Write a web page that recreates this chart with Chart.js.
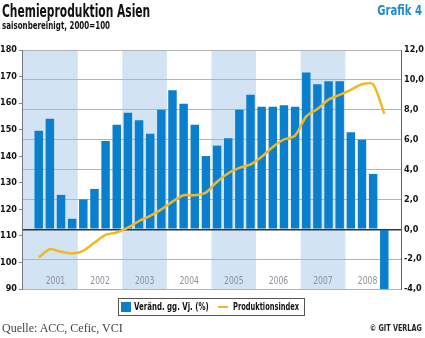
<!DOCTYPE html>
<html>
<head>
<meta charset="utf-8">
<script src="https://cdn.jsdelivr.net/npm/chart.js@4.4.1/dist/chart.umd.min.js"></script>
<style>
  html, body { margin:0; padding:0; background:#fff; }
  body { width:425px; height:338px; position:relative; overflow:hidden;
         font-family:"Liberation Sans Narrow","DejaVu Sans Condensed","Roboto",sans-serif; }
  #wrap { position:absolute; left:0; top:0; width:425px; height:338px; }
  .t { position:absolute; white-space:nowrap; }
  .cl { transform-origin: left center; }
  .cr { transform-origin: right center; }
  #title { left:2px; top:1px; font-size:17px; font-weight:bold; color:#111; transform:scaleX(0.70); }
  #sub { left:2px; top:20px; font-size:10px; font-weight:bold; color:#111; transform:scaleX(0.79); }
  #grafik { right:3px; top:2px; font-size:14px; font-weight:bold; color:#1e8bd2; transform:scaleX(0.80); }
  #legend { left:118px; top:298px; width:187px; height:18px; border:1px solid #555; box-sizing:border-box;
            font-size:10px; font-weight:bold; color:#111; }
  #lg1 { position:absolute; left:2px; top:3px; width:10px; height:10px; background:#0a7fcd; }
  #lg1t { left:15px; top:2px; transform:scaleX(0.78); }
  #lg2 { position:absolute; left:99px; top:7px; width:10px; height:2px; background:#f2b824; }
  #lg2t { left:114px; top:2px; transform:scaleX(0.74); }
  #src { left:2px; top:321px; font-family:"Liberation Serif","DejaVu Serif",serif; font-size:12px; color:#444; }
  #copy { right:3px; top:324px; font-size:8px; font-weight:bold; color:#222; transform:scaleX(0.9); }
</style>
</head>
<body>
<div id="wrap"><canvas id="c" width="425" height="338"></canvas></div>
<div class="t cl" id="title">Chemieproduktion Asien</div>
<div class="t cl" id="sub">saisonbereinigt, 2000=100</div>
<div class="t cr" id="grafik">Grafik 4</div>
<div class="t" id="legend">
  <div id="lg1"></div><div class="t cl" id="lg1t">Veränd. gg. Vj. (%)</div>
  <div id="lg2"></div><div class="t cl" id="lg2t">Produktionsindex</div>
</div>
<div class="t" id="src">Quelle: ACC, Cefic, VCI</div>
<div class="t cr" id="copy">© GIT VERLAG</div>
<script>
const years = ['2001','2002','2003','2004','2005','2006','2007','2008'];
const quarters = ['Q1','Q2','Q3','Q4'];
const changePct = [
  6.6, 7.4, 2.3, 0.7,
  2.0, 2.7, 5.9, 7.0,
  7.8, 7.3, 6.4, 8.0,
  9.3, 8.4, 7.0, 4.9,
  5.6, 6.1, 8.0, 9.0,
  8.2, 8.2, 8.3, 8.2,
  10.5, 9.7, 9.9, 9.9,
  6.5, 6.0, 3.7, -4.0
];
const productionIndex = [
  101.9, 105.0, 104.0, 103.4,
  104.4, 107.5, 110.4, 111.3,
  113.1, 115.6, 117.5, 120.0,
  122.9, 125.3, 125.3, 126.3,
  130.4, 133.6, 135.6, 136.9,
  139.8, 143.5, 146.3, 147.8,
  155.0, 157.8, 161.3, 163.1,
  165.0, 167.1, 167.1, 156.0
];
const shadedYears = ['2001','2003','2005','2007'];

// one empty slot on each side, as in the reference
const labels = [''].concat(years.flatMap(y => quarters.map(q => y + ' ' + q))).concat(['']);
const pad = arr => [null].concat(arr).concat([null]);

const condensed = '"Liberation Sans Narrow","DejaVu Sans Condensed","Roboto",sans-serif';

const bandPlugin = {
  id: 'bands',
  beforeDraw(chart) {
    const {ctx, chartArea, scales} = chart;
    const x = scales.x;
    ctx.save();
    years.forEach((yr, k) => {
      const first = 1 + 4 * k, last = first + 3;
      const left = k === 0 ? chartArea.left : (x.getPixelForValue(first) + x.getPixelForValue(first - 1)) / 2;
      const right = k === years.length - 1 ? chartArea.right : (x.getPixelForValue(last) + x.getPixelForValue(last + 1)) / 2;
      if (shadedYears.includes(yr)) {
        ctx.fillStyle = '#d2e4f4';
        ctx.fillRect(left, chartArea.top, right - left, chartArea.bottom - chartArea.top);
      }
    });
    ctx.fillStyle = '#8b9098';
    ctx.font = '10px ' + condensed;
    ctx.textAlign = 'center';
    ctx.textBaseline = 'middle';
    years.forEach((yr, k) => {
      const first = 1 + 4 * k, last = first + 3;
      const cx = (x.getPixelForValue(first) + x.getPixelForValue(last)) / 2;
      ctx.save();
      ctx.translate(cx, chartArea.bottom - 8);
      ctx.scale(0.85, 1);
      ctx.fillText(yr, 0, 0);
      ctx.restore();
    });
    ctx.restore();
  }
};

new Chart(document.getElementById('c'), {
  type: 'bar',
  data: {
    labels: labels,
    datasets: [
      {
        type: 'line',
        label: 'Produktionsindex',
        data: pad(productionIndex),
        yAxisID: 'yL',
        borderColor: '#f2b824',
        borderWidth: 2.5,
        pointRadius: 0,
        tension: 0.25,
        fill: false,
        order: 0
      },
      {
        type: 'bar',
        label: 'Veränd. gg. Vj. (%)',
        data: pad(changePct),
        yAxisID: 'yR',
        backgroundColor: '#0a7fcd',
        barPercentage: 0.76,
        categoryPercentage: 1.0,
        order: 1
      }
    ]
  },
  options: {
    responsive: false,
    animation: false,
    layout: { padding: { top: 50, bottom: 49, left: 0, right: 0 } },
    plugins: { legend: { display: false }, title: { display: false }, tooltip: { enabled: false } },
    scales: {
      x: { display: false, offset: true, grid: { display: false } },
      yL: {
        position: 'left',
        min: 90, max: 180,
        ticks: { stepSize: 10, color: '#111', padding: 2, font: { family: condensed, size: 9, weight: 'bold' } },
        grid: { drawOnChartArea: false, drawTicks: true, tickLength: 3, color: '#888' },
        border: { display: true, color: '#777', width: 1 },
        afterFit(s) { s.width = 22; }
      },
      yR: {
        position: 'right',
        min: -4, max: 12,
        ticks: {
          stepSize: 2, color: '#111', padding: 3,
          font: { family: condensed, size: 9, weight: 'bold' },
          callback: v => v.toFixed(1).replace('.', ',')
        },
        grid: {
          drawOnChartArea: true, drawTicks: false,
          color: c => (c.tick && c.tick.value === 0) ? '#333' : '#b4b4b4',
          lineWidth: c => (c.tick && c.tick.value === 0) ? 1.5 : 1
        },
        border: { display: true, color: '#666', width: 1 },
        afterFit(s) { s.width = 24; }
      }
    }
  },
  plugins: [bandPlugin]
});
</script>
</body>
</html>
